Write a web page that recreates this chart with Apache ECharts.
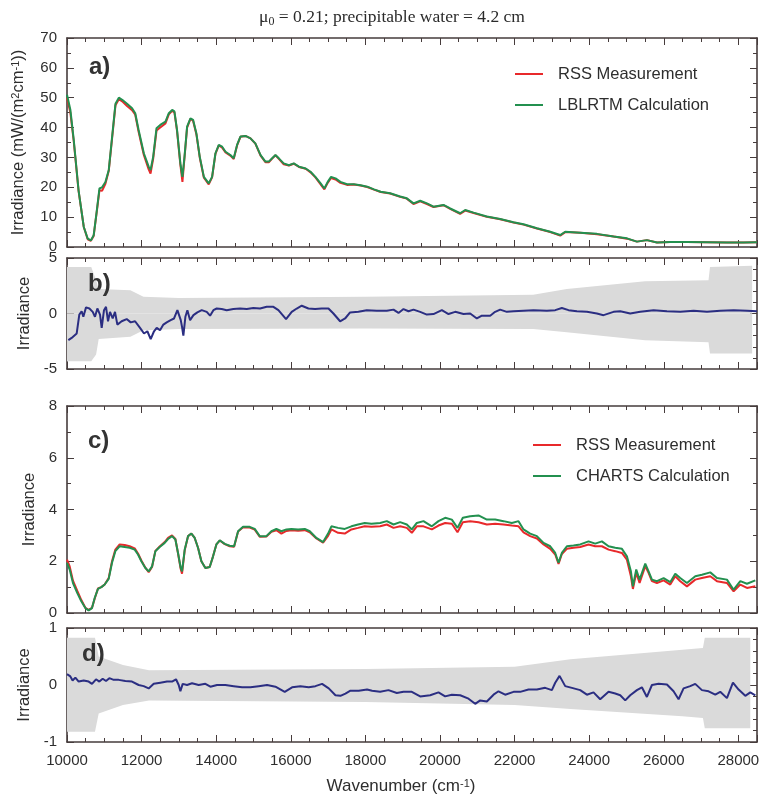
<!DOCTYPE html>
<html>
<head>
<meta charset="utf-8">
<script src="https://cdn.jsdelivr.net/npm/echarts@6/dist/echarts.min.js"></script>
<style>
  html, body { margin: 0; padding: 0; background: #ffffff; }
  #chart { width: 764px; height: 798px; }
</style>
</head>
<body>
<div id="chart"></div>
<script>
// ---- Panel a: clear-sky irradiance, mW/(m^2 cm^-1) ----
const waveA = [10000,10090,10180,10310,10450,10555,10640,10715,10800,10870,10940,11030,11120,11210,11300,11390,11480,11610,11745,11830,11920,12060,12190,12240,12310,12400,12500,12640,12730,12820,12880,12950,13040,13095,13150,13220,13310,13380,13470,13560,13670,13800,13890,13980,14070,14160,14250,14380,14470,14560,14650,14785,14920,15050,15190,15320,15410,15500,15590,15680,15810,15950,16080,16220,16400,16530,16660,16800,16900,16990,17080,17200,17330,17510,17690,17870,18050,18230,18410,18664,18932,19110,19290,19470,19650,19826,20094,20274,20540,20676,20900,21256,21615,21970,22240,22600,22956,23224,23358,23760,24208,24655,25013,25280,25550,25818,26175,26620,27160,27695,28140,28500];
const lblrtmA = [51,46,36,19,6.7,2.8,2.2,3.9,12.3,19.6,20,21.8,25.8,37,48,50,49.3,48,46.5,44.8,39.2,31.4,26.9,25.8,30.2,39.8,40.9,42,44.8,45.9,45.4,39.2,28,23.5,30.2,40.3,43.1,42.6,38,30.2,23.5,21.3,23.5,31.4,34.2,33.6,31.9,30.8,29.7,34.2,37,37.2,36.4,34.7,30.8,28.6,28.6,29.7,30.8,29.7,28,27.4,28,26.9,26.3,25.2,23.5,21.3,19.6,21.8,23.5,23,21.8,21,21,20.7,20.2,19.3,18.5,18,16.9,16.3,14.6,15.5,14.6,13.5,14.1,12.9,11.3,12.4,11.5,10.2,9.4,8.3,7.6,6.3,5.1,4,5.1,4.8,4.4,3.5,2.9,1.8,2.3,1.5,1.7,1.7,1.6,1.5,1.5,1.6];
const rssA = [50,45,35.5,18.8,6.7,2.6,2.1,3.7,12,19,18.8,21.2,25.5,36.5,47.5,49.5,48.8,47.2,45.8,44.3,38.6,30.8,26,24.6,29.5,39,40,41.4,44.4,45.6,45.1,38.9,27.5,21.8,29.8,40,42.9,42.3,37.7,29.9,23.2,21,23.3,31.2,34,33.3,31.7,30.6,29.5,34,36.9,37.2,36.4,34.6,30.6,28.4,28.4,29.6,30.7,29.5,27.7,27.3,27.9,26.8,26.2,25,23.3,21,19.3,21.5,23.1,22.6,21.5,20.8,20.9,20.6,20.1,19.2,18.4,17.9,16.8,16.2,14.4,15.3,14.4,13.4,14,12.8,11.1,12.2,11.4,10.1,9.3,8.2,7.5,6.2,5,3.8,5,4.8,4.3,3.5,2.8,1.8,2.3,1.5,1.7,1.7,1.6,1.5,1.5,1.6];

// ---- Panel b: measurement minus LBLRTM ----
const waveB = [10036,10125,10260,10330,10393,10438,10510,10600,10690,10750,10814,10885,10930,10992,11046,11100,11153,11225,11287,11350,11466,11600,11708,11825,11958,12065,12155,12244,12333,12405,12494,12584,12673,12780,12870,12960,13013,13050,13084,13120,13174,13228,13300,13390,13495,13612,13746,13836,13925,14014,14148,14282,14460,14640,14820,14997,15176,15355,15534,15668,15873,16025,16160,16294,16473,16651,16830,17010,17143,17322,17456,17590,17813,18037,18305,18575,18754,18888,19022,19156,19290,19469,19648,19826,20050,20229,20408,20631,20810,20989,21123,21346,21480,21614,21793,21972,22240,22508,22866,23090,23268,23447,23671,23939,24207,24386,24654,24833,25101,25370,25727,26085,26443,26800,27158,27516,27874,28233,28500];
const diffB = [-2.4,-2.2,-1.8,-0.1,0.2,-0.3,0.55,0.45,0.15,-0.3,0.45,-0.1,-1.3,0.3,0.6,-0.7,0.15,-0.45,0.15,-1.0,-0.7,-0.5,-0.8,-0.7,-1.3,-1.8,-1.6,-2.3,-1.6,-1.3,-1.5,-1.0,-0.8,-0.6,-0.45,0.3,0.4,-0.6,-1.2,-2.0,-0.3,0.3,-0.6,-0.15,0.1,0.3,0.15,-0.2,0.3,0.45,0.4,0.3,0.4,0.45,0.4,0.5,0.45,0.6,0.6,0.3,-0.5,0.15,0.45,0.7,0.45,0.4,0.45,0.45,0,-0.7,-0.45,0.1,0.15,0.3,0.25,0.25,0.35,0.05,0.4,0.2,0.35,0.15,-0.1,-0.05,0.3,-0.05,0.15,-0.05,0,-0.45,-0.2,-0.2,0.15,0.35,0.15,0.2,0.25,0.3,0.25,0.3,0.5,0.3,0.2,0.15,0,-0.15,0.15,0.2,0,0.15,0.3,0.2,0.15,0.25,0.15,0.25,0.3,0.25,0.2];
// measurement-noise envelope for panel b
const noiseWaveB = [10000,10650,10780,10850,11700,12050,13000,18000,22500,23400,25500,27200,27240,28370];
const noiseHighB = [4.2,4.2,3.0,2.2,2.1,1.5,1.4,1.5,1.7,2.2,2.9,3.0,4.2,4.3];
const noiseLowB = [-4.3,-4.3,-3.7,-2.3,-2.1,-1.5,-1.4,-1.35,-1.4,-1.7,-2.4,-2.6,-3.6,-3.6];

// ---- Panel c: cloudy irradiance ----
const waveC = [10000,10072,10160,10277,10384,10492,10580,10670,10742,10831,10921,11010,11118,11207,11296,11412,11546,11680,11815,11904,11994,12101,12190,12280,12370,12485,12619,12709,12816,12906,12977,13049,13084,13156,13245,13335,13424,13513,13603,13710,13826,13916,14005,14095,14229,14363,14480,14587,14720,14899,15033,15167,15346,15480,15614,15748,15883,16017,16196,16375,16509,16687,16866,17000,17089,17268,17447,17626,17805,17983,18162,18396,18575,18754,18932,19111,19245,19379,19558,19782,19960,20139,20318,20470,20613,20810,21033,21257,21480,21704,21927,22106,22240,22419,22598,22777,22956,23090,23179,23268,23402,23581,23760,23983,24162,24341,24520,24699,24878,25012,25119,25173,25262,25352,25504,25593,25683,25817,25996,26174,26308,26442,26621,26845,27023,27247,27426,27694,27873,28052,28231,28455];
const chartsC = [1.94,1.68,1.16,0.77,0.45,0.19,0.1,0.19,0.58,0.93,1.0,1.1,1.32,1.94,2.39,2.58,2.55,2.52,2.45,2.26,2.0,1.74,1.61,1.8,2.39,2.55,2.71,2.86,2.97,2.84,2.32,1.74,1.61,2.45,2.97,3.07,2.9,2.52,2.0,1.74,1.78,2.19,2.65,2.81,2.67,2.6,2.58,3.16,3.33,3.33,3.25,2.97,2.97,3.16,3.25,3.16,3.23,3.25,3.23,3.25,3.16,2.9,2.74,3.07,3.35,3.29,3.25,3.35,3.42,3.48,3.45,3.48,3.55,3.42,3.51,3.42,3.23,3.48,3.55,3.35,3.55,3.68,3.61,3.29,3.68,3.74,3.77,3.61,3.61,3.55,3.48,3.55,3.23,3.07,2.97,2.71,2.58,2.32,1.94,2.32,2.58,2.61,2.65,2.77,2.68,2.77,2.58,2.52,2.48,2.19,1.61,1.03,1.68,1.29,1.91,1.61,1.29,1.23,1.35,1.19,1.52,1.35,1.16,1.42,1.48,1.57,1.35,1.29,0.9,1.23,1.13,1.26];
const rssC = [2.06,1.8,1.25,0.85,0.5,0.2,0.12,0.2,0.55,0.95,1.0,1.1,1.35,2.0,2.45,2.65,2.63,2.58,2.5,2.3,2.03,1.75,1.58,1.78,2.4,2.57,2.74,2.9,3.0,2.86,2.3,1.7,1.52,2.42,2.97,3.07,2.9,2.52,2.0,1.74,1.78,2.19,2.65,2.8,2.66,2.58,2.56,3.15,3.31,3.3,3.22,2.95,2.96,3.14,3.2,3.07,3.17,3.2,3.18,3.2,3.12,2.88,2.72,2.98,3.23,3.1,3.07,3.23,3.29,3.35,3.33,3.35,3.42,3.29,3.35,3.29,3.1,3.35,3.35,3.23,3.38,3.48,3.45,3.12,3.51,3.55,3.51,3.42,3.45,3.42,3.38,3.35,3.12,2.97,2.88,2.65,2.48,2.26,1.9,2.28,2.48,2.52,2.55,2.65,2.58,2.58,2.45,2.39,2.32,2.06,1.42,0.93,1.55,1.16,1.81,1.55,1.23,1.16,1.26,1.1,1.42,1.23,1.03,1.29,1.35,1.42,1.23,1.16,0.84,1.1,0.97,1.03];

// ---- Panel d: measurement minus CHARTS ----
const waveD = [10000,10090,10150,10224,10313,10447,10581,10670,10778,10867,10957,11046,11135,11252,11386,11565,11743,11922,12056,12190,12325,12503,12682,12816,12923,12995,13040,13102,13218,13352,13531,13710,13844,14023,14246,14470,14694,14917,15140,15364,15588,15838,16035,16258,16482,16660,16839,17018,17197,17331,17465,17600,17822,18046,18180,18396,18620,18843,19022,19245,19469,19737,19960,20139,20318,20542,20765,20944,21078,21257,21436,21569,21748,21972,22150,22374,22598,22821,23000,23090,23206,23358,23537,23760,23939,24117,24296,24520,24699,24833,24967,25101,25280,25414,25548,25683,25861,26085,26263,26397,26531,26710,26844,27023,27202,27381,27515,27694,27855,28007,28186,28320,28455];
const diffD = [0.19,0.15,0.08,0.13,0.06,0.08,0.06,0.02,0.1,0.06,0.11,0.07,0.12,0.09,0.09,0.07,0.06,0,-0.02,-0.06,0.02,0.04,0.06,0.06,0.1,0,-0.11,0.02,0,0.03,0,0.02,-0.03,0,0,-0.02,-0.04,-0.04,-0.02,0,-0.03,-0.12,-0.04,-0.02,-0.04,-0.02,0.02,-0.06,-0.18,-0.19,-0.15,-0.1,-0.1,-0.08,-0.1,-0.12,-0.09,-0.14,-0.12,-0.12,-0.2,-0.18,-0.13,-0.2,-0.17,-0.18,-0.24,-0.33,-0.27,-0.29,-0.17,-0.11,-0.17,-0.12,-0.12,-0.08,-0.08,-0.05,-0.09,0.04,0.16,-0.02,-0.05,-0.09,-0.17,-0.13,-0.25,-0.12,-0.15,-0.18,-0.27,-0.18,-0.09,-0.04,-0.21,0,0.02,0.01,-0.11,-0.25,-0.06,-0.02,0.02,-0.09,-0.11,-0.17,-0.12,-0.23,0.04,-0.08,-0.19,-0.13,-0.18];
// measurement-noise envelope for panel d
const noiseWaveD = [10000,10750,10850,11500,12200,18000,22000,23500,26500,27050,27100,28320];
const noiseHighD = [0.83,0.83,0.5,0.35,0.26,0.28,0.32,0.45,0.62,0.65,0.83,0.83];
const noiseLowD = [-0.82,-0.82,-0.5,-0.35,-0.27,-0.3,-0.35,-0.42,-0.55,-0.58,-0.76,-0.76];

// ---- axis ranges and tick labels ----
const waveTicks = [10000,12000,14000,16000,18000,20000,22000,24000,26000,28000];
const yRanges = [
  { min: 0, max: 70, interval: 10, minor: 2 },
  { min: -5, max: 5, interval: 5, minor: 5 },
  { min: 0, max: 8, interval: 2, minor: 2 },
  { min: -1, max: 1, interval: 1, minor: 5 }
];

const SANS = '"Liberation Sans", Arial, Helvetica, sans-serif';
const SERIF = '"Liberation Serif", "Times New Roman", serif';
const FRAME = '#463c3c';
const RED = '#e8292b';
const GREEN = '#23904f';
const BLUE = '#2b2e82';
const BAND = '#dadada';

const zip = (xs, ys) => xs.map((x, i) => [x, ys[i]]);

const grids = [
  { left: 67, right: 7, top: 38, height: 209 },
  { left: 67, right: 7, top: 258, height: 111 },
  { left: 67, right: 7, top: 406, height: 207 },
  { left: 67, right: 7, top: 628, height: 114 }
];

const lineCommon = { show: true, onZero: false, lineStyle: { color: FRAME, width: 1.6 } };
const tickCommon = { show: true, inside: true, length: 7, lineStyle: { color: FRAME, width: 1 } };

const xAxes = [];
const yAxes = [];
grids.forEach((g, i) => {
  ['bottom', 'top'].forEach(pos => {
    const labelled = (i === 3 && pos === 'bottom');
    xAxes.push({
      type: 'value', gridIndex: i, position: pos,
      min: 10000, max: 28500, interval: 2000,
      axisLine: lineCommon, axisTick: tickCommon,
      minorTick: { show: true, splitNumber: 4, length: 4, lineStyle: { color: FRAME, width: 1 } },
      splitLine: { show: false },
      axisLabel: {
        show: labelled, showMaxLabel: false, margin: 11,
        fontFamily: SANS, fontSize: 15, color: '#2e2e2e',
        formatter: v => (waveTicks.indexOf(v) >= 0 ? String(v) : '')
      },
      name: labelled ? 'Wavenumber (cm{sup|-1})' : '',
      nameLocation: 'middle', nameGap: 36,
      nameTextStyle: {
        fontFamily: SANS, fontSize: 17, color: '#2e2e2e', padding: [0, 22, 0, 0],
        rich: { sup: { fontFamily: SANS, fontSize: 11, verticalAlign: 'top', lineHeight: 11, color: '#2e2e2e' } }
      }
    });
  });
  const r = yRanges[i];
  ['left', 'right'].forEach(pos => {
    const labelled = pos === 'left';
    let nm = '';
    if (labelled) nm = i === 0 ? 'Irradiance (mW/(m{sup|2}cm{sup|-1}))' : 'Irradiance';
    yAxes.push({
      type: 'value', gridIndex: i, position: pos,
      min: r.min, max: r.max, interval: r.interval,
      axisLine: lineCommon, axisTick: tickCommon,
      minorTick: { show: true, splitNumber: r.minor, length: 4, lineStyle: { color: FRAME, width: 1 } },
      splitLine: { show: false },
      axisLabel: { show: labelled, margin: 10, fontFamily: SANS, fontSize: 15, color: '#2e2e2e' },
      name: nm, nameLocation: 'middle', nameRotate: 90,
      nameGap: i === 0 ? 40 : 27,
      nameTextStyle: {
        fontFamily: SANS, fontSize: 16.5, color: '#2e2e2e',
        rich: { sup: { fontFamily: SANS, fontSize: 11, verticalAlign: 'top', lineHeight: 11, color: '#2e2e2e' } }
      }
    });
  });
});

const curve = (name, xi, yi, xs, ys, color, z) => ({
  name, type: 'line', xAxisIndex: xi, yAxisIndex: yi, data: zip(xs, ys),
  symbol: 'none', z,
  lineStyle: { color, width: 2 }, itemStyle: { color }
});

// The noise envelope straddles zero, so it is drawn as two areas filled to the zero line.
const envelopeHalf = (name, xi, yi, xs, ys) => ({
  name, type: 'line', xAxisIndex: xi, yAxisIndex: yi, data: zip(xs, ys),
  symbol: 'none', z: 1, silent: true,
  lineStyle: { width: 0, opacity: 0 },
  areaStyle: { color: BAND, opacity: 1, origin: 0 }
});

const series = [
  curve('RSS Measurement', 0, 0, waveA, rssA, RED, 2),
  curve('LBLRTM Calculation', 0, 0, waveA, lblrtmA, GREEN, 3),
  envelopeHalf('noise b +', 2, 2, noiseWaveB, noiseHighB),
  envelopeHalf('noise b -', 2, 2, noiseWaveB, noiseLowB),
  curve('Difference b', 2, 2, waveB, diffB, BLUE, 3),
  curve('RSS Measurement', 4, 4, waveC, rssC, RED, 2),
  curve('CHARTS Calculation', 4, 4, waveC, chartsC, GREEN, 3),
  envelopeHalf('noise d +', 6, 6, noiseWaveD, noiseHighD),
  envelopeHalf('noise d -', 6, 6, noiseWaveD, noiseLowD),
  curve('Difference d', 6, 6, waveD, diffD, BLUE, 3)
];

const legendCommon = {
  orient: 'vertical', icon: 'rect', itemWidth: 28, itemHeight: 2, itemGap: 11,
  selectedMode: false,
  textStyle: { fontFamily: SANS, fontSize: 16.5, color: '#2e2e2e', lineHeight: 20, padding: [0, 0, 0, 10] }
};

const panelLabel = (text, x, y) => ({
  type: 'text', x, y, z: 100, zlevel: 0,
  style: { text, fontFamily: SANS, fontSize: 24, fontWeight: 'bold', fill: '#333', verticalAlign: 'middle', align: 'left' }
});

const option = {
  animation: false,
  backgroundColor: '#ffffff',
  grid: grids,
  xAxis: xAxes,
  yAxis: yAxes,
  legend: [
    Object.assign({ left: 510, top: 59, data: ['RSS Measurement', 'LBLRTM Calculation'] }, legendCommon),
    Object.assign({ left: 528, top: 430, data: ['RSS Measurement', 'CHARTS Calculation'] }, legendCommon)
  ],
  graphic: [
    {
      type: 'text', x: 392, y: 17, z: 100,
      style: {
        text: '{t|μ}{s|0}{t| = 0.21; precipitable water = 4.2 cm}',
        align: 'center', verticalAlign: 'middle',
        rich: {
          t: { fontFamily: SERIF, fontSize: 17.5, fill: '#2a2a2a', lineHeight: 22 },
          s: { fontFamily: SERIF, fontSize: 12, fill: '#2a2a2a', verticalAlign: 'bottom', lineHeight: 14 }
        }
      }
    },
    panelLabel('a)', 89, 67),
    panelLabel('b)', 88, 284),
    panelLabel('c)', 88, 441),
    panelLabel('d)', 82, 654)
  ],
  series
};

const chart = echarts.init(document.getElementById('chart'), null, { renderer: 'canvas' });
chart.setOption(option);
</script>
</body>
</html>
